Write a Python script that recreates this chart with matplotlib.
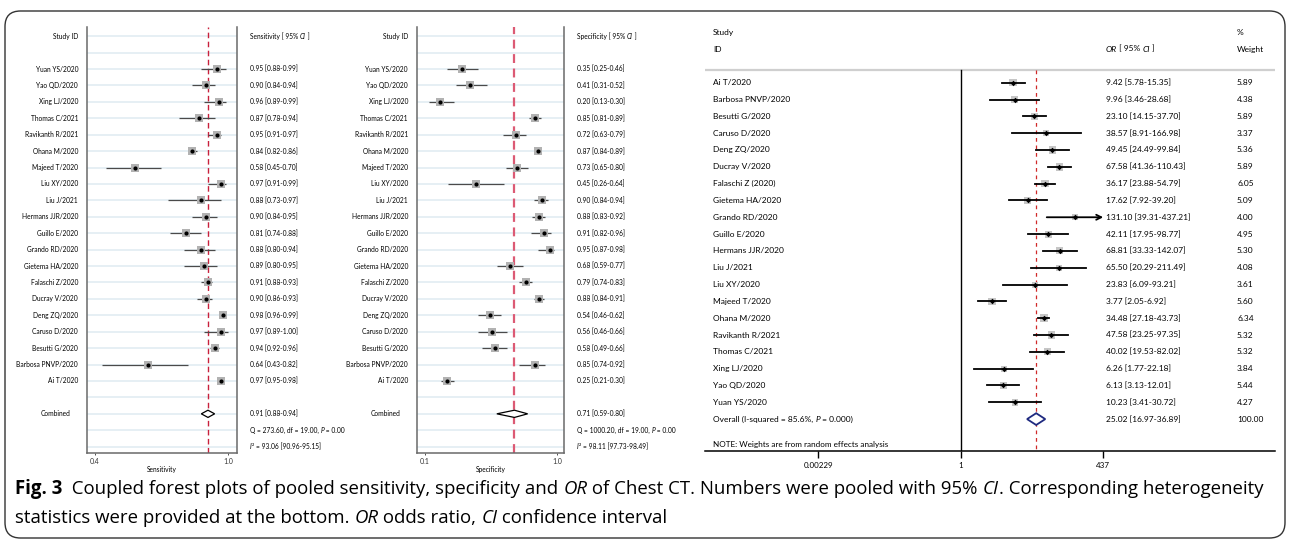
import numpy as np
import matplotlib.pyplot as plt
from matplotlib.patches import FancyBboxPatch, Polygon
from matplotlib.transforms import blended_transform_factory

W, H = 1290, 540
PANEL_FONT = "Lato"
CAP_FONT = "Open Sans"

# ---- sensitivity / specificity (order as plotted, top to bottom) ----
ss_studies = ["Yuan YS/2020", "Yao QD/2020", "Xing LJ/2020", "Thomas C/2021", "Ravikanth R/2021",
              "Ohana M/2020", "Majeed T/2020", "Liu XY/2020", "Liu J/2021", "Hermans JJR/2020",
              "Guillo E/2020", "Grando RD/2020", "Gietema HA/2020", "Falaschi Z/2020", "Ducray V/2020",
              "Deng ZQ/2020", "Caruso D/2020", "Besutti G/2020", "Barbosa PNVP/2020", "Ai T/2020"]
sens = [0.95, 0.90, 0.96, 0.87, 0.95, 0.84, 0.58, 0.97, 0.88, 0.90,
        0.81, 0.88, 0.89, 0.91, 0.90, 0.98, 0.97, 0.94, 0.64, 0.97]
sens_lo = [0.88, 0.84, 0.89, 0.78, 0.91, 0.82, 0.45, 0.91, 0.73, 0.84,
           0.74, 0.80, 0.80, 0.88, 0.86, 0.96, 0.89, 0.92, 0.43, 0.95]
sens_hi = [0.99, 0.94, 0.99, 0.94, 0.97, 0.86, 0.70, 0.99, 0.97, 0.95,
           0.88, 0.94, 0.95, 0.93, 0.93, 0.99, 1.00, 0.96, 0.82, 0.98]
sens_pool = [0.91, 0.88, 0.94]
sens_q = ["273.60", "19.00", "0.00"]
sens_i2 = ["93.06", "90.96", "95.15"]

spec = [0.35, 0.41, 0.20, 0.85, 0.72, 0.87, 0.73, 0.45, 0.90, 0.88,
        0.91, 0.95, 0.68, 0.79, 0.88, 0.54, 0.56, 0.58, 0.85, 0.25]
spec_lo = [0.25, 0.31, 0.13, 0.81, 0.63, 0.84, 0.65, 0.26, 0.84, 0.83,
           0.82, 0.87, 0.59, 0.74, 0.84, 0.46, 0.46, 0.49, 0.74, 0.21]
spec_hi = [0.46, 0.52, 0.30, 0.89, 0.79, 0.89, 0.80, 0.64, 0.94, 0.92,
           0.96, 0.98, 0.77, 0.83, 0.91, 0.62, 0.66, 0.66, 0.92, 0.30]
spec_pool = [0.71, 0.59, 0.80]
spec_q = ["1000.20", "19.00", "0.00"]
spec_i2 = ["98.11", "97.73", "98.49"]

# ---- odds ratio panel ----
or_studies = ["Ai T/2020", "Barbosa PNVP/2020", "Besutti G/2020", "Caruso D/2020", "Deng ZQ/2020",
              "Ducray V/2020", "Falaschi Z (2020)", "Gietema HA/2020", "Grando RD/2020", "Guillo E/2020",
              "Hermans JJR/2020", "Liu J/2021", "Liu XY/2020", "Majeed T/2020", "Ohana M/2020",
              "Ravikanth R/2021", "Thomas C/2021", "Xing LJ/2020", "Yao QD/2020", "Yuan YS/2020"]
or_val = [9.42, 9.96, 23.10, 38.57, 49.45, 67.58, 36.17, 17.62, 131.10, 42.11,
          68.81, 65.50, 23.83, 3.77, 34.48, 47.58, 40.02, 6.26, 6.13, 10.23]
or_lo = [5.78, 3.46, 14.15, 8.91, 24.49, 41.36, 23.88, 7.92, 39.31, 17.95,
         33.33, 20.29, 6.09, 2.05, 27.18, 23.25, 19.53, 1.77, 3.13, 3.41]
or_hi = [15.35, 28.68, 37.70, 166.98, 99.84, 110.43, 54.79, 39.20, 437.21, 98.77,
         142.07, 211.49, 93.21, 6.92, 43.73, 97.35, 82.02, 22.18, 12.01, 30.72]
or_wt = [5.89, 4.38, 5.89, 3.37, 5.36, 5.89, 6.05, 5.09, 4.00, 4.95,
         5.30, 4.08, 3.61, 5.60, 6.34, 5.32, 5.32, 3.84, 5.44, 4.27]
or_pool = [25.02, 16.97, 36.89]
or_i2 = "85.6%"
or_ticks = [0.00229, 1, 437]
or_ticklabels = ["0.00229", "1", "437"]

fig = plt.figure(figsize=(W / 100, H / 100), dpi=100)
renderer = fig.canvas.get_renderer()


def text_width(s, **props):
    t = fig.text(0, 0, "|" + s + "|", **props)
    w1 = t.get_window_extent(renderer).width
    t.set_text("||")
    w2 = t.get_window_extent(renderer).width
    t.remove()
    return w1 - w2


def rich(x, y, parts, size, family, **kw):
    # x, y in pixels from top-left; parts = [(text, italic?, bold?)]
    cx = x
    for s, it, bf in parts:
        props = dict(fontsize=size, family=family, style="italic" if it else "normal",
                     weight="bold" if bf else "normal")
        fig.text(cx / W, 1 - y / H, s, va="center", ha="left", **props, **kw)
        cx += text_width(s, **props)


def ss_panel(left, right, xlim, ticks, vals, lo, hi, pool, q, i2, head, xlabel, dash_c, dash_w):
    top, bot = 27, 453
    ax = fig.add_axes([left / W, 1 - bot / H, (right - left) / W, (bot - top) / H])
    ax.set_xlim(xlim)
    row0, step = 69, 16.42
    ax.set_ylim((bot - row0) / step, (top - row0) / step)
    rows = np.arange(len(vals))
    for r in range(-2, 24):
        ax.axhline(r, color="#e6eff4", lw=1.4, zorder=0)
    ax.axvline(pool[0], color=dash_c, ls=(0, (4, 2.5)), lw=dash_w, zorder=1)
    ax.hlines(rows, lo, hi, color="#4a4a4a", lw=0.9, zorder=2)
    ax.plot(vals, rows, "s", color="#b2b2b2", ms=6.4, mew=0, zorder=3)
    ax.plot(vals, rows, "o", color="black", ms=3, mew=0, zorder=4)
    pr = 21
    ax.add_patch(Polygon([(pool[1], pr), (pool[0], pr - 0.22), (pool[2], pr), (pool[0], pr + 0.22)],
                         closed=True, fc="white", ec="black", lw=0.9, zorder=4))
    ax.spines["top"].set_visible(False)
    for s in ["left", "right", "bottom"]:
        ax.spines[s].set_color("#6a6a6a")
        ax.spines[s].set_linewidth(1.1)
    ax.set_yticks([])
    ax.set_xticks(ticks)
    ax.set_xticklabels([f"{t:.1f}" for t in ticks], fontsize=5.0, family=PANEL_FONT)
    ax.tick_params(axis="x", length=1.5, width=0.6, pad=2, colors="#333333")
    ax.set_xlabel(xlabel, fontsize=4.8, family=PANEL_FONT, labelpad=1)
    tr = blended_transform_factory(ax.transAxes, ax.transData)
    nx = -9 / (right - left)
    ax.text(nx, -2, "Study ID", transform=tr, ha="right", va="center", fontsize=4.8, family=PANEL_FONT)
    for r, name in zip(rows, ss_studies):
        ax.text(nx, r, name, transform=tr, ha="right", va="center", fontsize=4.8, family=PANEL_FONT)
    ax.text(nx - 0.05, pr, "Combined", transform=tr, ha="right", va="center", fontsize=4.8, family=PANEL_FONT)
    tx = right + 13

    def ypx(r):
        return row0 + r * step
    rich(tx, ypx(-2), [(head + " [ 95% ", False, False), ("CI", True, False), (" ]", False, False)], 4.8, PANEL_FONT)
    for r in rows:
        rich(tx, ypx(r), [(f"{vals[r]:.2f} [{lo[r]:.2f}-{hi[r]:.2f}]", False, False)], 4.8, PANEL_FONT)
    rich(tx, ypx(pr), [(f"{pool[0]:.2f} [{pool[1]:.2f}-{pool[2]:.2f}]", False, False)], 4.8, PANEL_FONT)
    rich(tx, ypx(pr + 1), [(f"Q = {q[0]}, df = {q[1]}, ", False, False), ("P", True, False),
                           (f" = {q[2]}", False, False)], 4.8, PANEL_FONT)
    rich(tx, ypx(pr + 2), [("I", True, False), (f"\u00b2 = {i2[0]} [{i2[1]}-{i2[2]}]", False, False)],
         4.8, PANEL_FONT)
    return ax


ss_panel(87, 237, (0.364, 1.041), [0.4, 1.0], sens, sens_lo, sens_hi, sens_pool, sens_q, sens_i2,
         "Sensitivity", "Sensitivity", "#c8203c", 1.0)
ss_panel(417, 564, (0.0455, 1.048), [0.1, 1.0], spec, spec_lo, spec_hi, spec_pool, spec_q, spec_i2,
         "Specificity", "Specificity", "#dc5a74", 1.6)

# ---- OR forest plot ----
L, R, T, B = 705, 1275, 25, 450.7
x1, ppd = 960.7, 53.97
row0, step = 82.7, 16.82
ax = fig.add_axes([L / W, 1 - B / H, (R - L) / W, (B - T) / H])
ax.set_xscale("log")
ax.set_xlim(10 ** ((L - x1) / ppd), 10 ** ((R - x1) / ppd))
ytop = (T - row0) / step
ybot = (B - row0) / step
yline = (70 - row0) / step
ax.set_ylim(ybot, ytop)
rows = np.arange(len(or_val))
cap = or_ticks[-1]
ax.axhline(yline, color="#cfcfcf", lw=1.6, zorder=0)
ax.plot([1, 1], [yline, ybot], color="black", lw=1.0, zorder=1)
ax.plot([or_pool[0]] * 2, [yline, ybot], color="#d02a2a", ls=(0, (3, 3)), lw=0.9, zorder=1)
ax.scatter(or_val, rows, marker="s", s=(2.25 * np.sqrt(or_wt)) ** 2, color="#c6c6c6", lw=0, zorder=2)
for r in rows:
    if or_hi[r] > cap:
        ax.annotate("", xy=(cap, r), xytext=(or_lo[r], r),
                    arrowprops=dict(arrowstyle="->", lw=1.3, color="black",
                                    shrinkA=0, shrinkB=0, mutation_scale=9), zorder=3)
    else:
        ax.plot([or_lo[r], or_hi[r]], [r, r], color="black", lw=1.3, zorder=3)
ax.plot(or_val, rows, "D", color="black", ms=2.8, mew=0, zorder=4)
pr = len(or_val)
ax.add_patch(Polygon([(or_pool[1], pr), (or_pool[0], pr - 0.35), (or_pool[2], pr), (or_pool[0], pr + 0.35)],
                     closed=True, fc="white", ec="#1f2a80", lw=1.3, zorder=4))
for s in ["top", "left", "right"]:
    ax.spines[s].set_visible(False)
ax.spines["bottom"].set_linewidth(1.1)
ax.set_yticks([])
ax.set_xticks(or_ticks)
ax.set_xticklabels(or_ticklabels, fontsize=5.8, family=PANEL_FONT)
ax.minorticks_off()
ax.tick_params(axis="x", which="both", length=5, width=1.0, pad=3)


def ypx(r):
    return row0 + r * step


nx = 713
ox = 1106
wx = 1237
fs = 6.0
rich(nx, ypx(-3), [("Study", False, False)], fs, PANEL_FONT)
rich(nx, ypx(-2), [("ID", False, False)], fs, PANEL_FONT)
rich(ox, ypx(-2), [("OR", True, False), (" [ 95% ", False, False), ("CI", True, False), (" ]", False, False)],
     fs, PANEL_FONT)
rich(wx, ypx(-3), [("%", False, False)], fs, PANEL_FONT)
rich(wx, ypx(-2), [("Weight", False, False)], fs, PANEL_FONT)
for r in rows:
    rich(nx, ypx(r), [(or_studies[r], False, False)], fs, PANEL_FONT)
    rich(ox, ypx(r), [(f"{or_val[r]:.2f} [{or_lo[r]:.2f}-{or_hi[r]:.2f}]", False, False)], fs, PANEL_FONT)
    rich(wx, ypx(r), [(f"{or_wt[r]:.2f}", False, False)], fs, PANEL_FONT)
rich(nx, ypx(pr), [(f"Overall (I-squared = {or_i2}, ", False, False), ("P", True, False),
                   (" = 0.000)", False, False)], fs, PANEL_FONT)
rich(ox, ypx(pr), [(f"{or_pool[0]:.2f} [{or_pool[1]:.2f}-{or_pool[2]:.2f}]", False, False)], fs, PANEL_FONT)
rich(wx, ypx(pr), [("100.00", False, False)], fs, PANEL_FONT)
rich(nx, 444, [("NOTE: Weights are from random effects analysis", False, False)], 5.9, PANEL_FONT)

# ---- caption and frame ----
cs = 13.45
rich(15, 489, [("Fig. 3", False, True),
               ("  Coupled forest plots of pooled sensitivity, specificity and ", False, False),
               ("OR", True, False), (" of Chest CT. Numbers were pooled with 95% ", False, False),
               ("CI", True, False), (". Corresponding heterogeneity", False, False)], cs, CAP_FONT)
rich(15, 518, [("statistics were provided at the bottom. ", False, False), ("OR", True, False),
               (" odds ratio, ", False, False), ("CI", True, False), (" confidence interval", False, False)],
     cs, CAP_FONT)

frame = FancyBboxPatch((5 / W, 1 - 538 / H), 1280 / W, 527 / H, boxstyle="round,pad=0,rounding_size=0.012",
                       transform=fig.transFigure, fc="none", ec="#333333", lw=1.0, mutation_aspect=W / H)
fig.patches.append(frame)

fig.savefig("out.png", dpi=100)
